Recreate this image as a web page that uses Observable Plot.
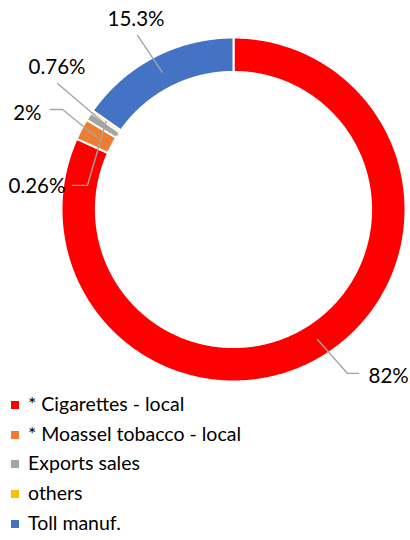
<!DOCTYPE html>
<html>
<head>
<meta charset="utf-8">
<script src="https://cdn.jsdelivr.net/npm/d3@7"></script>
<script src="https://cdn.jsdelivr.net/npm/@observablehq/plot@0.6"></script>
<style>
  html, body { margin: 0; padding: 0; background: #fff; }
  body { width: 410px; height: 540px; overflow: hidden; font-family: Lato, "Open Sans", sans-serif; }
  #legend { margin: 0; padding: 0; }
  .row { height: 29.7px; line-height: 29.7px; font-size: 19.5px; color: #000; white-space: nowrap; position: relative; padding-left: 28px; }
  .sw { position: absolute; left: 11px; top: 12px; width: 8px; height: 8px; }
</style>
</head>
<body>
<div id="chart"></div>
<div id="legend"></div>
<script>
// ---- data ----
const categories = ["* Cigarettes - local", "* Moassel tobacco - local", "Exports sales", "others", "Toll manuf."];
const values = [82, 2, 0.76, 0.26, 15.3];
const valueLabels = ["82%", "2%", "0.76%", "0.26%", "15.3%"];
const colors = ["#FF0000", "#ED7D31", "#A5A5A5", "#FFC000", "#4472C4"];

// ---- layout (unit = outer radius) ----
const W = 410, H = 389;
const cx = 233, cy = 209, R = 172;
const innerFrac = 0.8;
// label layout: leader radius, elbow/end points and text positions
const labelLayout = [
  {leaderR: 0.9, pts: [[0.663, -0.953], [0.727, -0.953]], tx: 0.785, ty: -0.971, anchor: "start"},
  {leaderR: 0.9, pts: [[-0.994, 0.581], [-1.064, 0.581]], tx: -1.116, ty: 0.561, anchor: "end"},
  {leaderR: 0.8, pts: [[-1.023, 0.733]], tx: -1.026, ty: 0.826, anchor: "middle"},
  {leaderR: 0.9, pts: [[-0.849, 0.140], [-0.936, 0.140]], tx: -0.977, ty: 0.134, anchor: "end"},
  {leaderR: 0.9, pts: [[-0.558, 1.012]], tx: -0.567, ty: 1.106, anchor: "middle"}
];

const data = categories.map((c, i) => ({cat: c, value: values[i], label: valueLabels[i], color: colors[i], i}));
const arcs = d3.pie().sort(null).value(d => d.value).startAngle(0).endAngle(2 * Math.PI)(data);

// slice polygons
const polys = [];
arcs.forEach(a => {
  const n = Math.max(2, Math.ceil((a.endAngle - a.startAngle) / 0.005) + 1);
  const ring = [];
  for (let k = 0; k < n; k++) {
    const t = a.startAngle + (a.endAngle - a.startAngle) * k / (n - 1);
    ring.push([Math.sin(t), Math.cos(t)]);
  }
  for (let k = n - 1; k >= 0; k--) {
    const t = a.startAngle + (a.endAngle - a.startAngle) * k / (n - 1);
    ring.push([innerFrac * Math.sin(t), innerFrac * Math.cos(t)]);
  }
  ring.push(ring[0]);
  ring.forEach(p => polys.push({cat: a.data.cat, x: p[0], y: p[1]}));
});

// leader lines
const leaders = [];
const texts = [];
arcs.forEach(a => {
  const L = labelLayout[a.data.i];
  const mid = (a.startAngle + a.endAngle) / 2;
  leaders.push({id: a.data.i, x: L.leaderR * Math.sin(mid), y: L.leaderR * Math.cos(mid)});
  L.pts.forEach(p => leaders.push({id: a.data.i, x: p[0], y: p[1]}));
  texts.push({x: L.tx, y: L.ty, text: a.data.label, anchor: L.anchor});
});

const textMark = anchor => Plot.text(texts.filter(d => d.anchor === anchor), {
  x: "x", y: "y", text: "text", textAnchor: anchor, fontSize: 20.5, fill: "#000",
  fontFamily: "Lato, 'Open Sans', sans-serif"
});

const chart = Plot.plot({
  width: W, height: H, margin: 0,
  x: {domain: [-cx / R, (W - cx) / R], axis: null},
  y: {domain: [-(H - cy) / R, cy / R], axis: null},
  color: {domain: categories, range: colors},
  style: {background: "#fff", overflow: "visible"},
  marks: [
    Plot.line(polys, {x: "x", y: "y", z: "cat", fill: "cat", stroke: "white", strokeWidth: 2, curve: "linear"}),
    Plot.line(leaders, {x: "x", y: "y", z: "id", stroke: "#A6A6A6", strokeWidth: 1.4, curve: "linear"}),
    textMark("start"), textMark("middle"), textMark("end")
  ]
});
document.getElementById("chart").appendChild(chart);

// legend
const leg = document.getElementById("legend");
categories.forEach((c, i) => {
  const row = document.createElement("div");
  row.className = "row";
  const sw = document.createElement("span");
  sw.className = "sw";
  sw.style.background = colors[i];
  row.appendChild(sw);
  row.appendChild(document.createTextNode(c));
  leg.appendChild(row);
});
</script>
</body>
</html>
